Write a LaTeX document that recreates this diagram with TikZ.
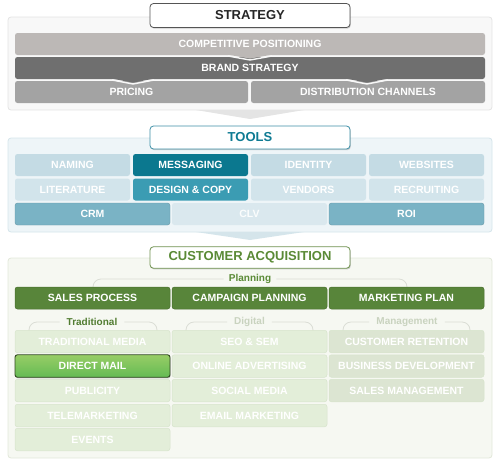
\documentclass[tikz,border=0pt]{standalone}
\usepackage{fontspec}
\setmainfont{Liberation Sans}
\usetikzlibrary{shadows}

\definecolor{stratpanel}{HTML}{F8F8F8}
\definecolor{stratline}{HTML}{E4E4E4}
\definecolor{stratedge}{HTML}{555555}
\definecolor{competgray}{HTML}{BCB8B6}
\definecolor{brandgray}{HTML}{6F6F6F}
\definecolor{midgray}{HTML}{A3A3A3}
\definecolor{toolpanel}{HTML}{EEF5F8}
\definecolor{toolline}{HTML}{D5E5EB}
\definecolor{tooledge}{HTML}{3E8FA6}
\definecolor{tooltext}{HTML}{0F7B93}
\definecolor{paleblue}{HTML}{C4DBE4}
\definecolor{palerblue}{HTML}{D2E4EB}
\definecolor{darkteal}{HTML}{0B788F}
\definecolor{midteal}{HTML}{3B9CB3}
\definecolor{softteal}{HTML}{7AB3C5}
\definecolor{faintblue}{HTML}{DAE8EE}
\definecolor{capanel}{HTML}{F6F8F2}
\definecolor{caline}{HTML}{E2E8DA}
\definecolor{caedge}{HTML}{6F9150}
\definecolor{cagreen}{HTML}{5A8A36}
\definecolor{darkgreen}{HTML}{58853A}
\definecolor{palegreen}{HTML}{E3EED9}
\definecolor{palegreenline}{HTML}{D7E4CC}
\definecolor{greygreen}{HTML}{DCE5D2}
\definecolor{fadedlabel}{HTML}{C9D3BF}
\definecolor{bracketgray}{HTML}{DADDD5}

\begin{document}
\begin{tikzpicture}[x=1pt, y=-1pt,
    panel/.style={rounded corners=3pt, line width=.8pt},
    heading/.style={draw, fill=white, rounded corners=3.5pt, line width=.8pt,
      minimum width=200pt, minimum height=24pt, inner sep=0pt,
      font=\fontsize{13}{15}\selectfont\bfseries,
      drop shadow={shadow xshift=.8pt, shadow yshift=-1.2pt, opacity=.35}},
    cell/.style={rounded corners=2.5pt, minimum height=22pt, inner sep=0pt,
      text=white, font=\fontsize{10.5}{12}\selectfont\bfseries},
    quarter/.style={cell, minimum width=115pt},
    third/.style={cell, minimum width=155pt},
    greencell/.style={third, minimum height=22.5pt, fill=palegreen, draw=palegreenline, line width=.5pt},
    grouplabel/.style={font=\fontsize{10}{12}\selectfont\bfseries, inner sep=0pt},
    bracket/.style={draw=bracketgray, line width=.8pt, rounded corners=8pt}]
    \useasboundingbox (0,0) rectangle (500,466);

    % strategy
    \draw[panel, fill=stratpanel, draw=stratline] (8,17) rectangle (492,110);
    \fill[stratline] (196,110) -- (304,110) -- (250,119) -- cycle;
    \node[heading, draw=stratedge, text=black!85] (strategy) at (250,15.5) {STRATEGY};
    \node[cell, fill=competgray, minimum width=470pt] (compet) at (250,44) {COMPETITIVE POSITIONING};
    \node[cell, fill=brandgray, minimum width=470pt] (brand) at (250,68) {BRAND STRATEGY};
    \node[cell, fill=midgray, minimum width=233pt] (pricing) at (131.5,92) {PRICING};
    \node[cell, fill=midgray, minimum width=234pt] (distrib) at (368,92) {DISTRIBUTION CHANNELS};
    \draw[stratpanel, line width=1.4pt] (228,56) -- (250,60) -- (272,56);
    \fill[competgray] (230,55) -- (250,58.6) -- (270,55) -- cycle;
    \draw[stratpanel, line width=1.4pt] (112,80) -- (133,84) -- (154,80);
    \fill[brandgray] (114,79) -- (133,82.6) -- (152,79) -- cycle;
    \draw[stratpanel, line width=1.4pt] (346,80) -- (367,84) -- (388,80);
    \fill[brandgray] (348,79) -- (367,82.6) -- (386,79) -- cycle;

    % tools
    \draw[panel, fill=toolpanel, draw=toolline] (8,138) rectangle (492,232);
    \fill[toolline] (196,232) -- (304,232) -- (250,240) -- cycle;
    \node[heading, minimum height=23pt, draw=tooledge, text=tooltext] (tools) at (250,137.5) {TOOLS};
    \node[quarter, fill=paleblue] (naming) at (72.5,165) {NAMING};
    \node[quarter, fill=darkteal] (messaging) at (190.5,165) {MESSAGING};
    \node[quarter, fill=paleblue] (identity) at (308.5,165) {IDENTITY};
    \node[quarter, fill=paleblue] (websites) at (426.5,165) {WEBSITES};
    \node[quarter, fill=palerblue] (literature) at (72.5,189.5) {LITERATURE};
    \node[quarter, fill=midteal] (designcopy) at (190.5,189.5) {DESIGN \& COPY};
    \node[quarter, fill=palerblue] (vendors) at (308.5,189.5) {VENDORS};
    \node[quarter, fill=palerblue] (recruiting) at (426.5,189.5) {RECRUITING};
    \node[third, fill=softteal, draw=softteal!85!black, line width=.4pt] (crm) at (92.5,214) {CRM};
    \node[third, fill=faintblue, text=white!90!faintblue] (clv) at (249.5,214) {CLV};
    \node[third, fill=softteal, draw=softteal!85!black, line width=.4pt] (roi) at (406.5,214) {ROI};

    % customer acquisition
    \draw[panel, fill=capanel, draw=caline] (8,258) rectangle (492,458);
    \node[heading, minimum height=21.5pt, draw=caedge, text=cagreen] (acquisition) at (250,257.5) {CUSTOMER ACQUISITION};
    \node[grouplabel, text=cagreen] (planning) at (250,279) {Planning};
    \draw[bracket] ([xshift=-5pt]planning.west) -- (93,279) -- (93,288);
    \draw[bracket] ([xshift=5pt]planning.east) -- (407,279) -- (407,288);
    \node[third, fill=darkgreen, draw=darkgreen!85!black, line width=.5pt] (salesproc) at (92.5,298) {SALES PROCESS};
    \node[third, fill=darkgreen, draw=darkgreen!85!black, line width=.5pt] (campaign) at (249.5,298) {CAMPAIGN PLANNING};
    \node[third, fill=darkgreen, draw=darkgreen!85!black, line width=.5pt] (mktplan) at (406.5,298) {MARKETING PLAN};

    \node[grouplabel, text=cagreen!90!black] (traditional) at (92,322) {Traditional};
    \draw[bracket] ([xshift=-7pt]traditional.west) -- (29,322) -- (29,331);
    \draw[bracket] ([xshift=7pt]traditional.east) -- (157,322) -- (157,331);
    \node[grouplabel, text=fadedlabel] (digital) at (249.5,322) {Digital};
    \draw[bracket] ([xshift=-7pt]digital.west) -- (186,322) -- (186,331);
    \draw[bracket] ([xshift=7pt]digital.east) -- (313,322) -- (313,331);
    \node[grouplabel, text=fadedlabel] (management) at (407,322) {Management};
    \draw[bracket] ([xshift=-7pt]management.west) -- (343,322) -- (343,331);
    \draw[bracket] ([xshift=7pt]management.east) -- (470,322) -- (470,331);

    \node[greencell] (tradmedia) at (92.5,341.5) {TRADITIONAL MEDIA};
    \node[greencell] (publicity) at (92.5,390.5) {PUBLICITY};
    \node[greencell] (telemkt) at (92.5,415.5) {TELEMARKETING};
    \node[greencell] (events) at (92.5,439.5) {EVENTS};
    \node[third, minimum height=22.5pt, top color=green!35!olive!60!white, bottom color=darkgreen!70!green!80!white,
      draw=darkgreen!55!black, line width=.9pt,
      drop shadow={shadow xshift=.6pt, shadow yshift=-1.2pt, opacity=.4}] (directmail) at (92.5,366) {DIRECT MAIL};
    \node[greencell] (seosem) at (249.5,341.5) {SEO \& SEM};
    \node[greencell] (onlineadv) at (249.5,366) {ONLINE ADVERTISING};
    \node[greencell] (socialmedia) at (249.5,390.5) {SOCIAL MEDIA};
    \node[greencell] (emailmkt) at (249.5,415.5) {EMAIL MARKETING};
    \node[greencell, fill=greygreen] (retention) at (406.5,341.5) {CUSTOMER RETENTION};
    \node[greencell, fill=greygreen] (bizdev) at (406.5,366) {BUSINESS DEVELOPMENT};
    \node[greencell, fill=greygreen] (salesmgmt) at (406.5,390.5) {SALES MANAGEMENT};
\end{tikzpicture}
\end{document}
